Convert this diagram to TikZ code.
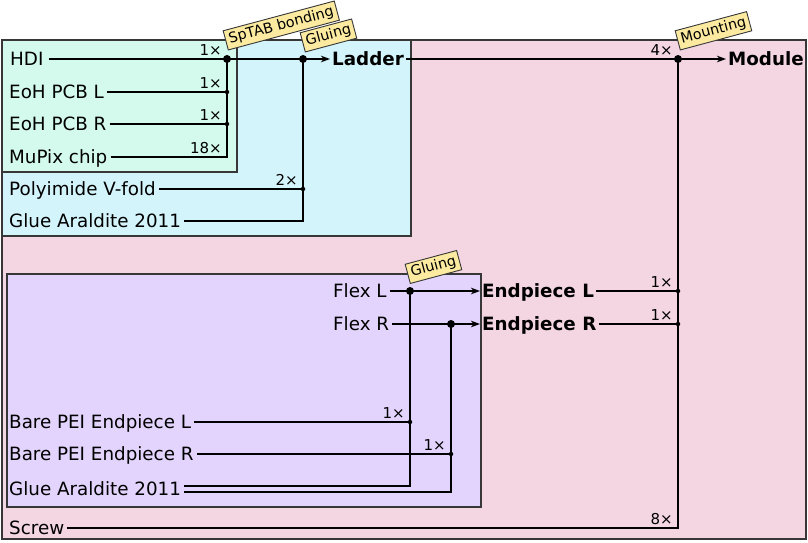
\documentclass[tikz,border=0pt]{standalone}
\usepackage{fontspec}
\setmainfont{DejaVu Sans}
\usetikzlibrary{arrows.meta}
\definecolor{modfill}{RGB}{243,214,225}
\definecolor{ladfill}{RGB}{212,244,251}
\definecolor{tabfill}{RGB}{212,250,238}
\definecolor{endfill}{RGB}{226,212,252}
\definecolor{tagfill}{RGB}{251,234,160}
\definecolor{edge}{RGB}{55,55,55}
\begin{document}
\begin{tikzpicture}[x=1pt,y=-1pt,
  grp/.style={draw=edge, line width=1.3pt},
  part/.style={anchor=west, inner xsep=3pt, inner ysep=0pt,
    font=\fontsize{18.3}{21}\selectfont, text height=13.3pt, text depth=0pt},
  prod/.style={part, font=\fontsize{18.3}{21}\selectfont\bfseries, inner xsep=2pt},
  conn/.style={line width=1.25pt},
  feed/.style={conn, -{Stealth[length=9pt,width=6.5pt,inset=2.5pt]}},
  bigdot/.style={circle, fill, inner sep=0pt, minimum size=8pt},
  smalldot/.style={circle, fill, inner sep=0pt, minimum size=4.5pt},
  qty/.style={anchor=south east, inner sep=0pt, font=\fontsize{15}{17}\selectfont},
  tag/.style={draw=edge, line width=0.9pt, fill=tagfill, anchor=south west,
    rotate=15, font=\fontsize{14.3}{16}\selectfont, inner xsep=3.5pt, inner ysep=3pt},
]
\useasboundingbox (0,0) rectangle (808,543);

% assembly groups
\filldraw[grp, fill=modfill] (2,40) rectangle (806,539);
\filldraw[grp, fill=ladfill] (2,40) rectangle (411,236);
\filldraw[grp, fill=tabfill] (2,40) rectangle (237,172);
\filldraw[grp, fill=endfill] (7,274) rectangle (481,507);

% junction points
\coordinate (jSp) at (227,59);
\coordinate (jE1) at (227,92);
\coordinate (jE2) at (227,124);
\coordinate (jMu) at (227,157);
\coordinate (jGl) at (303,59);
\coordinate (jPo) at (303,189);
\coordinate (jGa) at (303,221);
\coordinate (jMo) at (678,59);
\coordinate (jEL) at (678,291);
\coordinate (jER) at (678,324);
\coordinate (jSc) at (678,528);
\coordinate (jFL) at (410,291);
\coordinate (jBL) at (410,422);
\coordinate (jGL) at (410,486);
\coordinate (jFR) at (451,324);
\coordinate (jBR) at (451,454);
\coordinate (jGR) at (451,492);

% parts
\node[part, inner xsep=5pt] (hdi) at (5,59) {HDI};
\node[part] (eohl)  at (6,92)  {EoH PCB L};
\node[part] (eohr)  at (6,124) {EoH PCB R};
\node[part] (mupix) at (6,157) {MuPix chip};
\node[part] (poly)  at (6,189) {Polyimide V-fold};
\node[part] (glue1) at (6,221) {Glue Araldite 2011};
\node[part] (flexL) at (330,291) {Flex L};
\node[part] (flexR) at (330,324) {Flex R};
\node[part] (bareL) at (6,422) {Bare PEI Endpiece L};
\node[part] (bareR) at (6,454) {Bare PEI Endpiece R};
\node[part] (glue2) at (6,489) {Glue Araldite 2011};
\node[part] (screw) at (6,528) {Screw};

% products
\node[prod] (ladder) at (330,59)  {Ladder};
\node[prod] (module) at (726,59)  {Module};
\node[prod] (endL)   at (480,291) {Endpiece L};
\node[prod] (endR)   at (480,324) {Endpiece R};

% ladder
\draw[conn] (hdi.east) -- (jSp) -- (jGl);
\draw[feed] (jGl) -- (ladder.west);
\draw[conn] (eohl.east) -- (jE1);
\draw[conn] (eohr.east) -- (jE2);
\draw[conn] (mupix.east) -- (jMu) -- (jSp);
\draw[conn] (poly.east) -- (jPo);
\draw[conn] (glue1.east) -- (jGa) -- (jGl);

% endpieces
\draw[conn] (flexL.east) -- (jFL);
\draw[feed] (jFL) -- (endL.west);
\draw[conn] (flexR.east) -- (jFR);
\draw[feed] (jFR) -- (endR.west);
\draw[conn] (bareL.east) -- (jBL);
\draw[conn] (bareR.east) -- (jBR);
\draw[conn] ([yshift=3pt]glue2.east) -- (jGL) -- (jFL);
\draw[conn] ([yshift=-3pt]glue2.east) -- (jGR) -- (jFR);

% module
\draw[conn] (ladder.east) -- (jMo);
\draw[feed] (jMo) -- (module.west);
\draw[conn] (endL.east) -- (jEL);
\draw[conn] (endR.east) -- (jER);
\draw[conn] (screw.east) -- (jSc) -- (jMo);

% junction dots
\foreach \p in {jSp,jGl,jMo,jFL,jFR} \node[bigdot] at (\p) {};
\foreach \p in {jE1,jE2,jPo,jEL,jER,jBL,jBR} \node[smalldot] at (\p) {};

% quantities
\node[qty] at ([xshift=-5pt,yshift=3pt]jSp) {1×};
\node[qty] at ([xshift=-5pt,yshift=3pt]jE1) {1×};
\node[qty] at ([xshift=-5pt,yshift=3pt]jE2) {1×};
\node[qty] at ([xshift=-5pt,yshift=3pt]jMu) {18×};
\node[qty] at ([xshift=-5pt,yshift=3pt]jPo) {2×};
\node[qty] at ([xshift=-5pt,yshift=3pt]jMo) {4×};
\node[qty] at ([xshift=-5pt,yshift=3pt]jEL) {1×};
\node[qty] at ([xshift=-5pt,yshift=3pt]jER) {1×};
\node[qty] at ([xshift=-5pt,yshift=3pt]jSc) {8×};
\node[qty] at ([xshift=-5pt,yshift=3pt]jBL) {1×};
\node[qty] at ([xshift=-5pt,yshift=3pt]jBR) {1×};

% process tags
\node[tag] (tSp) at ([xshift=1pt,yshift=8.5pt]jSp) {SpTAB bonding};
\node[tag] (tGl) at ([xshift=2pt,yshift=6.5pt]jGl) {Gluing};
\node[tag] (tMo) at ([xshift=2pt,yshift=8.5pt]jMo) {Mounting};
\node[tag] (tEn) at ([xshift=0pt,yshift=7pt]jFL) {Gluing};
\end{tikzpicture}
\end{document}
